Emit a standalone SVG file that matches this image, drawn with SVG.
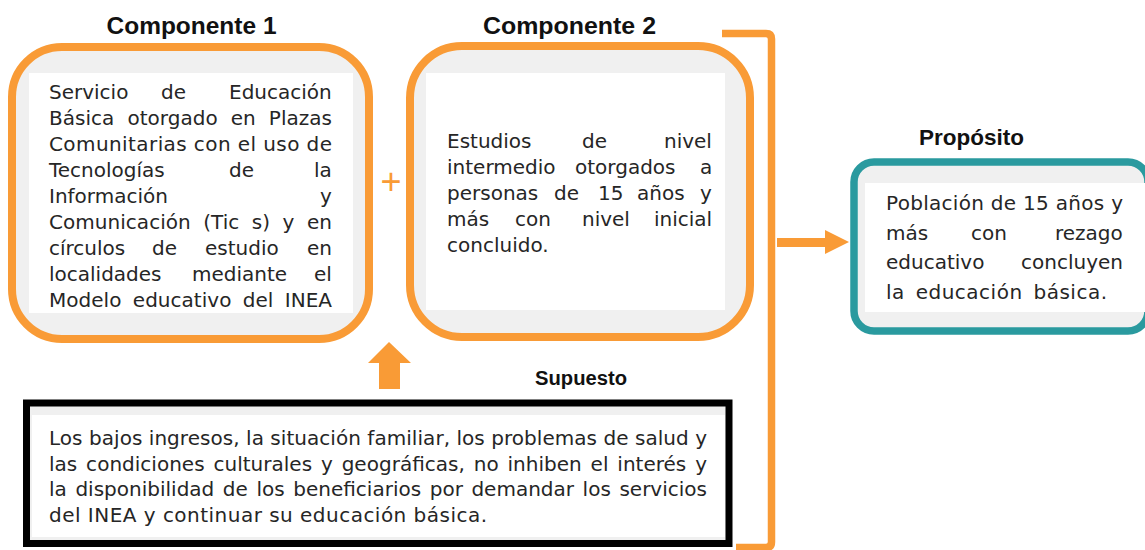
<svg xmlns="http://www.w3.org/2000/svg" width="1145" height="550" viewBox="0 0 1145 550">
<style>
.t{font-family:"DejaVu Sans","Liberation Sans",sans-serif;font-size:20px;fill:#262626}
.h{font-family:"Liberation Sans",Arial,sans-serif;font-weight:bold;fill:#111;text-anchor:middle}
.ob{fill:#f0f0f0;stroke:#f99b36;stroke-width:8}
.in{fill:#ffffff}
.or{fill:#f99b36}
</style>
<rect width="1145" height="550" fill="#ffffff"/>

<g id="connectors">
<path d="M722,33.5 H766 Q771.5,33.5 771.5,39 V542 Q771.5,547.5 766,547.5 H736" fill="none" stroke="#f99b36" stroke-width="7.5"/>
<polygon class="or" points="777,238 825,238 825,230 849,242 825,254 825,247 777,247"/>
<polygon class="or" points="389,342 411,363 400,363 400,389 379,389 379,363 368,363"/>
</g>

<g id="componente1">
<text class="h" x="191.5" y="34" font-size="24" textLength="170" lengthAdjust="spacingAndGlyphs">Componente 1</text>
<rect class="ob" x="12" y="47" width="357" height="292" rx="50" ry="50"/>
<rect class="in" x="29" y="73" width="324" height="240"/>
<text class="t" y="99"><tspan x="49">Servicio</tspan><tspan x="161">de</tspan><tspan x="229">Educación</tspan></text>
<text class="t" x="49" y="125" word-spacing="6.7" textLength="283" lengthAdjust="spacing">Básica otorgado en Plazas</text>
<text class="t" x="49" y="151" textLength="283" lengthAdjust="spacing">Comunitarias con el uso de</text>
<text class="t" y="177"><tspan x="49">Tecnologías</tspan><tspan x="229">de</tspan><tspan x="314">la</tspan></text>
<text class="t" y="203"><tspan x="49">Información</tspan><tspan x="320">y</tspan></text>
<text class="t" x="49" y="229" word-spacing="6.1" textLength="283" lengthAdjust="spacing">Comunicación (Tic s) y en</text>
<text class="t" y="255"><tspan x="49">círculos</tspan><tspan x="152">de</tspan><tspan x="205">estudio</tspan><tspan x="307">en</tspan></text>
<text class="t" y="281"><tspan x="49">localidades</tspan><tspan x="192">mediante</tspan><tspan x="314">el</tspan></text>
<text class="t" x="49" y="307" word-spacing="5" textLength="283" lengthAdjust="spacing">Modelo educativo del INEA</text>
</g>

<g id="plus">
<text x="391" y="194" font-family="'Liberation Sans',Arial,sans-serif" font-size="36" fill="#f99b36" text-anchor="middle">+</text>
</g>

<g id="componente2">
<text class="h" x="569.5" y="34" font-size="24" textLength="173" lengthAdjust="spacingAndGlyphs">Componente 2</text>
<rect class="ob" x="410" y="46" width="340" height="291" rx="52" ry="52"/>
<rect class="in" x="426" y="73" width="299" height="237"/>
<text class="t" y="148"><tspan x="447">Estudios</tspan><tspan x="582">de</tspan><tspan x="664">nivel</tspan></text>
<text class="t" y="174"><tspan x="447">intermedio</tspan><tspan x="575">otorgados</tspan><tspan x="700">a</tspan></text>
<text class="t" y="200"><tspan x="447">personas</tspan><tspan x="554">de</tspan><tspan x="598">15</tspan><tspan x="637">años</tspan><tspan x="700">y</tspan></text>
<text class="t" y="226"><tspan x="447">más</tspan><tspan x="515">con</tspan><tspan x="582">nivel</tspan><tspan x="654">inicial</tspan></text>
<text class="t" x="447" y="252">concluido.</text>
</g>

<g id="proposito">
<text class="h" x="971.5" y="145" font-size="22" textLength="105" lengthAdjust="spacingAndGlyphs">Propósito</text>
<rect x="854" y="162" width="294" height="169" rx="20" ry="20" fill="#f0f0f0" stroke="#2a9a9f" stroke-width="7.5"/>
<rect class="in" x="865" y="183" width="285" height="129"/>
<text class="t" x="886" y="210" textLength="237" lengthAdjust="spacing">Población de 15 años y</text>
<text class="t" y="239.5"><tspan x="886">más</tspan><tspan x="971">con</tspan><tspan x="1055">rezago</tspan></text>
<text class="t" y="269"><tspan x="886">educativo</tspan><tspan x="1021">concluyen</tspan></text>
<text class="t" x="886" y="299" word-spacing="4" textLength="221" lengthAdjust="spacing">la educación básica.</text>
</g>

<g id="supuesto">
<text class="h" x="581" y="385" font-size="20" textLength="92" lengthAdjust="spacingAndGlyphs">Supuesto</text>
<rect x="26.5" y="403" width="702.5" height="140.5" fill="#f0f0f0" stroke="#000" stroke-width="7"/>
<rect class="in" x="32" y="415" width="693" height="122"/>
<text class="t" x="49" y="445" textLength="658" lengthAdjust="spacing">Los bajos ingresos, la situación familiar, los problemas de salud y</text>
<text class="t" x="49" y="470.5" word-spacing="2.5" textLength="658" lengthAdjust="spacing">las condiciones culturales y geográficas, no inhiben el interés y</text>
<text class="t" x="49" y="496" word-spacing="2.2" textLength="658" lengthAdjust="spacing">la disponibilidad de los beneficiarios por demandar los servicios</text>
<text class="t" x="49" y="521.5" textLength="438" lengthAdjust="spacing">del INEA y continuar su educación básica.</text>
</g>
</svg>
